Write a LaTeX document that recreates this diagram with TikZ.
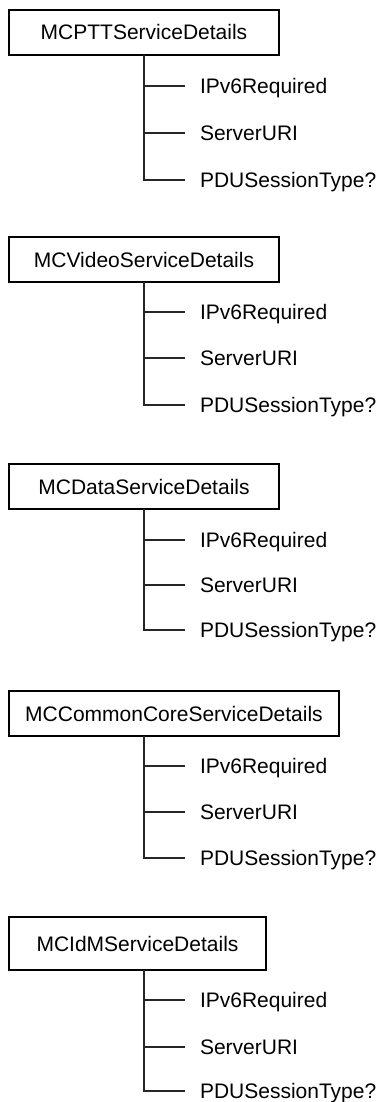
\documentclass[tikz,border=0pt]{standalone}
\usepackage{fontspec}
\setmainfont{Liberation Sans}
\begin{document}
\begin{tikzpicture}[x=0.5pt,y=-0.5pt,
  boxnode/.style={draw=black, line width=0.6pt, inner sep=0pt,
    font=\fontsize{10.5pt}{12pt}\selectfont, text height=7.5pt, text depth=0pt},
  leafnode/.style={anchor=west, inner xsep=7.3pt, inner ysep=0pt,
    font=\fontsize{10.5pt}{12pt}\selectfont, text height=7.5pt, text depth=0pt},
  treeline/.style={draw=black!85, line width=0.6pt}]
\useasboundingbox (0,0) rectangle (382,1102);
\foreach \i/\nm/\cx/\tp/\w/\h/\ya/\yb/\yc in {
  1/MCPTTServiceDetails/144/10/270/45/86/133/180,
  2/MCVideoServiceDetails/144/237/270/45/312/358/405,
  3/MCDataServiceDetails/144/464/270/45/540/585/630,
  4/MCCommonCoreServiceDetails/174/691/330/45/766/812/858,
  5/MCIdMServiceDetails/137.5/917/257/53/1000/1047/1091}{
  \node[boxnode, minimum width={\w*0.5pt}, minimum height={\h*0.5pt}] (b\i) at (\cx,{\tp+\h/2}) {\nm};
  \coordinate (t\i) at (144,{\tp+\h});
  \node[leafnode] (l\i1) at (185,\ya) {IPv6Required};
  \node[leafnode] (l\i2) at (185,\yb) {ServerURI};
  \node[leafnode] (l\i3) at (185,\yc) {PDUSessionType?};
  \draw[treeline] (t\i) |- (l\i3.west);
  \draw[treeline] (t\i |- l\i1.west) -- (l\i1.west);
  \draw[treeline] (t\i |- l\i2.west) -- (l\i2.west);
}
\end{tikzpicture}
\end{document}
